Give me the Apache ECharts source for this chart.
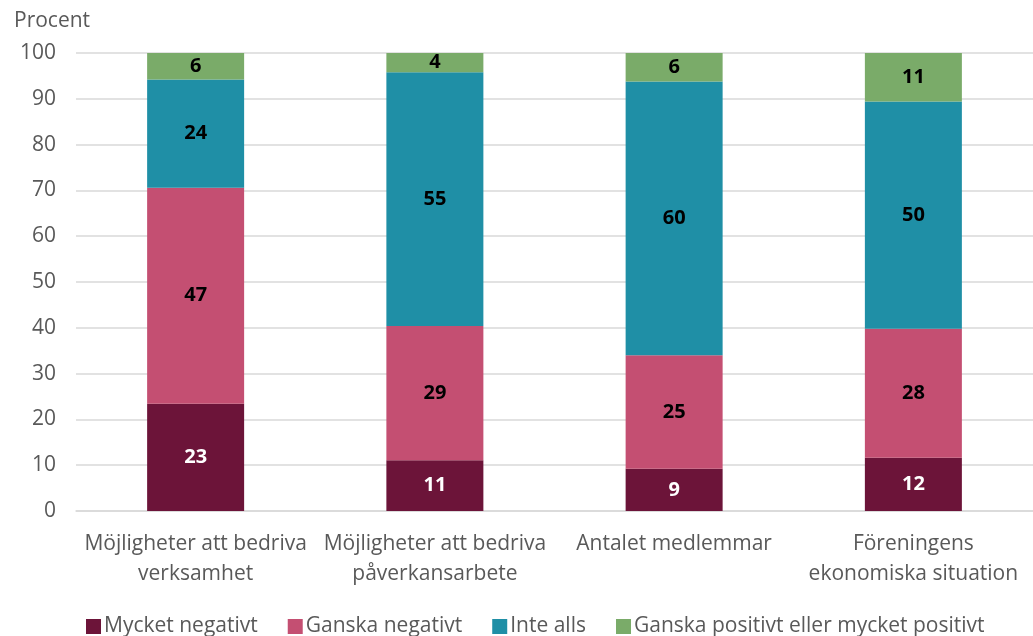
<!DOCTYPE html>
<html>
<head>
<meta charset="utf-8">
<script src="https://cdn.jsdelivr.net/npm/echarts@6/dist/echarts.min.js"></script>
<style>html,body{margin:0;padding:0;background:#fff}#c{width:1033px;height:636px}</style>
</head>
<body>
<div id="c"></div>
<script>
const categories = [
  "Möjligheter att bedriva\nverksamhet",
  "Möjligheter att bedriva\npåverkansarbete",
  "Antalet medlemmar",
  "Föreningens\nekonomiska situation"
];
const seriesNames = ["Mycket negativt", "Ganska negativt", "Inte alls", "Ganska positivt eller mycket positivt"];
const mycketNegativt = [23.4, 11.1, 9.2, 11.6];
const ganskaNegativt = [47.2, 29.3, 24.8, 28.2];
const inteAlls = [23.6, 55.4, 59.8, 49.6];
const ganskaPositivt = [5.8, 4.2, 6.2, 10.6];
const yTicks = [0, 10, 20, 30, 40, 50, 60, 70, 80, 90, 100];
const colors = ["#6C1439", "#C44F72", "#1F8FA6", "#7AAB69"];

const FONT = "Open Sans";
const FS = 21;
const allData = [mycketNegativt, ganskaNegativt, inteAlls, ganskaPositivt];
const series = allData.map((d, i) => ({
  name: seriesNames[i],
  type: "bar",
  stack: "total",
  data: d,
  barWidth: 97,
  itemStyle: { color: colors[i] },
  label: {
    show: true,
    position: "inside",
    formatter: p => Math.round(p.value),
    color: i === 0 ? "#ffffff" : "#000000",
    fontWeight: "bold",
    fontSize: 20,
    fontFamily: FONT
  },
  emphasis: { disabled: true }
}));

const chart = echarts.init(document.getElementById("c"));
chart.setOption({
  animation: false,
  title: {
    text: "Procent",
    left: 9,
    top: 6,
    textStyle: { fontSize: FS, fontWeight: "normal", color: "#595959", fontFamily: FONT }
  },
  grid: { left: 76, top: 53, width: 965, height: 458, containLabel: false },
  legend: {
    top: 611,
    left: 81,
    itemWidth: 15,
    itemHeight: 15,
    itemGap: 30,
    icon: "rect",
    textStyle: { fontSize: FS, color: "#595959", fontFamily: FONT, padding: [0, 0, 0, -2] },
    data: seriesNames
  },
  xAxis: {
    type: "category",
    data: categories,
    axisTick: { show: false },
    axisLine: { lineStyle: { color: "#d9d9d9", width: 1.5 } },
    axisLabel: { fontSize: FS, color: "#595959", fontFamily: FONT, lineHeight: 30, margin: 18, interval: 0 }
  },
  yAxis: {
    type: "value",
    min: yTicks[0],
    max: yTicks[yTicks.length - 1],
    interval: 10,
    axisLine: { show: false },
    axisTick: { show: false },
    splitLine: { lineStyle: { color: "#d9d9d9", width: 1.5 } },
    axisLabel: { fontSize: FS, color: "#595959", fontFamily: FONT, margin: 20 }
  },
  series: series
});
</script>
</body>
</html>
